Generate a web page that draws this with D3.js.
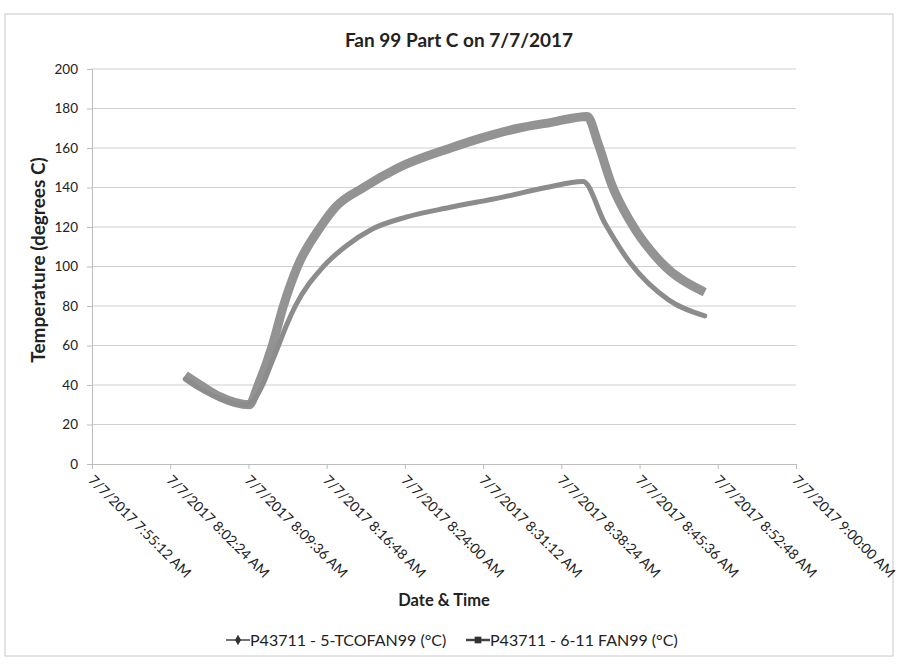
<!DOCTYPE html>
<html>
<head>
<meta charset="utf-8">
<script src="https://cdn.jsdelivr.net/npm/d3@7"></script>
<style>
  body { margin: 0; background: #fff; }
  text { font-family: Lato, "Open Sans", sans-serif; fill: #222; }
</style>
</head>
<body>
<svg id="svg"></svg>
<script>
// tick labels on the time axis (7.2 minute steps)
var tickLabels = ["7/7/2017 7:55:12 AM", "7/7/2017 8:02:24 AM", "7/7/2017 8:09:36 AM", "7/7/2017 8:16:48 AM",
    "7/7/2017 8:24:00 AM", "7/7/2017 8:31:12 AM", "7/7/2017 8:38:24 AM", "7/7/2017 8:45:36 AM",
    "7/7/2017 8:52:48 AM", "7/7/2017 9:00:00 AM"];
var yTicks = [0, 20, 40, 60, 80, 100, 120, 140, 160, 180, 200];

// P43711 - 5-TCOFAN99 (thin series)
var tcoTimes = ["8:03:47", "8:05:10", "8:07:00", "8:09:30", "8:10:54", "8:11:38", "8:12:22", "8:13:05", "8:13:55",
    "8:16:30", "8:18:30", "8:21:00", "8:24:06", "8:28:12", "8:32:54", "8:37:00", "8:40:24", "8:42:24",
    "8:44:43", "8:48:18", "8:51:36"];
var tcoValues = [43, 38, 33, 30, 40, 50, 60, 70, 80, 100, 110, 119, 125, 130, 135, 140, 143, 122, 102, 83, 75];

// P43711 - 6-11 FAN99 (thick series)
var fanTimes = ["8:03:47", "8:05:10", "8:07:00", "8:09:40", "8:10:30", "8:11:48", "8:12:49", "8:14:07", "8:16:14",
    "8:17:36", "8:20:12", "8:23:24", "8:28:13", "8:31:00", "8:34:25", "8:37:30", "8:40:47", "8:41:48",
    "8:43:00", "8:44:50", "8:47:36", "8:51:36"];
var fanValues = [45, 40, 34, 30, 40, 60, 80, 100, 120, 130, 140, 150, 160, 165, 170, 173, 176, 162, 142, 122,
    102, 87];

var seriesNames = ["P43711 - 5-TCOFAN99 (°C)", "P43711 - 6-11 FAN99 (°C)"];

var W = 900, H = 664;
var margin = {top: 69, right: 104, bottom: 200, left: 92};
var width = W - margin.left - margin.right;
var height = H - margin.top - margin.bottom;

var parseFull = d3.timeParse("%m/%d/%Y %I:%M:%S %p");
var parseT = d3.timeParse("%m/%d/%Y %H:%M:%S");
function toDate(t) { return parseT("7/7/2017 " + t); }

var tcoData = tcoTimes.map((t, i) => ({time: toDate(t), value: tcoValues[i]}));
var fanData = fanTimes.map((t, i) => ({time: toDate(t), value: fanValues[i]}));
var tickDates = tickLabels.map(s => parseFull(s));

var svg = d3.select("#svg").attr("width", W).attr("height", H);

// outer chart border
svg.append("rect")
    .attr("x", 5).attr("y", 14)
    .attr("width", 888).attr("height", 642)
    .attr("fill", "none").attr("stroke", "#c8c8c8").attr("stroke-width", 1);

var xScale = d3.scaleTime().domain([tickDates[0], tickDates[tickDates.length - 1]]).range([0, width]);
var yScale = d3.scaleLinear().domain([0, 200]).range([height, 0]);

var container = svg.append("g").attr("transform", `translate(${margin.left}, ${margin.top})`);

// gridlines
container.append("g").selectAll("line")
    .data(yTicks.filter(d => d > 0))
    .join("line")
    .attr("x1", 0).attr("x2", width)
    .attr("y1", d => yScale(d)).attr("y2", d => yScale(d))
    .attr("stroke", "#cfcfcf").attr("stroke-width", 1);

// y axis
var yAxis = container.append("g")
    .call(d3.axisLeft(yScale).tickValues(yTicks).tickSize(5).tickPadding(9));
yAxis.select(".domain").attr("stroke", "#bdbdbd");
yAxis.selectAll(".tick line").attr("stroke", "#bdbdbd");
yAxis.selectAll(".tick text").style("font-size", "13.5px").style("font-family", "Lato, sans-serif").attr("fill", "#222");

// x axis
var xAxis = container.append("g")
    .attr("transform", `translate(0, ${height})`)
    .call(d3.axisBottom(xScale).tickValues(tickDates).tickSize(5).tickFormat((d, i) => tickLabels[i]));
xAxis.select(".domain").attr("stroke", "#bdbdbd");
xAxis.selectAll(".tick line").attr("stroke", "#bdbdbd");
xAxis.selectAll(".tick text")
    .style("font-size", "14px").style("font-family", "Lato, sans-serif").attr("fill", "#222")
    .attr("text-anchor", "start")
    .attr("dy", 0)
    .attr("transform", "translate(-5, 17) rotate(45)")
    .attr("y", 0).attr("x", 0);

var line = d3.line()
    .x(d => xScale(d.time))
    .y(d => yScale(d.value))
    .curve(d3.curveMonotoneX);

container.append("path")
    .datum(fanData)
    .attr("fill", "none")
    .attr("stroke", "#939393")
    .attr("stroke-width", 9)
    .attr("stroke-linejoin", "round")
    .attr("d", line);

container.append("path")
    .datum(tcoData)
    .attr("fill", "none")
    .attr("stroke", "#8c8c8c")
    .attr("stroke-width", 5)
    .attr("stroke-linejoin", "round")
    .attr("stroke-linecap", "round")
    .attr("d", line);

// title and axis titles
svg.append("text")
    .attr("x", 459).attr("y", 47)
    .attr("text-anchor", "middle")
    .style("font-size", "19px").style("font-weight", "bold")
    .text("Fan 99 Part C on 7/7/2017");

svg.append("text")
    .attr("transform", "translate(45, 260) rotate(-90)")
    .attr("text-anchor", "middle")
    .style("font-size", "19px").style("font-weight", "bold")
    .text("Temperature (degrees C)");

svg.append("text")
    .attr("x", 444).attr("y", 606)
    .attr("text-anchor", "middle")
    .style("font-size", "16.5px").style("font-weight", "bold")
    .text("Date & Time");

// legend
var legend = svg.append("g").attr("transform", "translate(226, 640)");
var legendItems = legend.selectAll("g")
    .data(seriesNames)
    .join("g")
    .attr("transform", (d, i) => `translate(${i * 240}, 0)`);
legendItems.append("line")
    .attr("x1", 0).attr("x2", 24).attr("y1", 0).attr("y2", 0)
    .attr("stroke", "#444").attr("stroke-width", (d, i) => i === 0 ? 1.5 : 2.5);
legendItems.append("path")
    .attr("transform", "translate(12, 0)")
    .attr("d", (d, i) => d3.symbol().type(i === 0 ? d3.symbolDiamond : d3.symbolSquare).size(i === 0 ? 32 : 45)())
    .attr("fill", "#333");
legendItems.append("text")
    .attr("x", 24).attr("y", 6)
    .style("font-size", "16px")
    .text(d => d);
</script>
</body>
</html>
